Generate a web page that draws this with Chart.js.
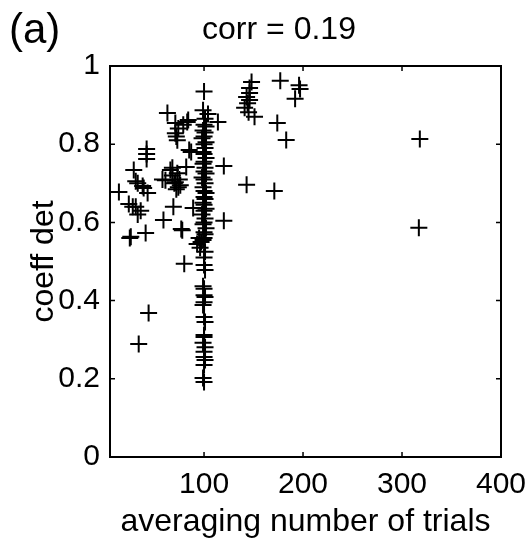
<!DOCTYPE html>
<html>
<head>
<meta charset="utf-8">
<script src="https://cdn.jsdelivr.net/npm/chart.js@4.4.1/dist/chart.umd.min.js"></script>
<style>
  html, body { margin: 0; padding: 0; background: #fff; }
  #wrap { width: 525px; height: 543px; }
</style>
</head>
<body>
<div id="wrap"><canvas id="scatterChart" width="525" height="543"></canvas></div>
<script>
// averaging number of trials vs coeff det
const lowX = [14, 24, 28, 33, 29, 33, 38, 43, 42, 42, 42, 25, 41, 36, 31, 34, 44,
  59, 69, 78, 58, 66, 71, 74, 73, 82, 85, 63, 71, 71, 74, 79, 83, 73, 72, 77, 80,
  68, 70, 72, 75, 68, 76, 61, 84, 87, 89, 39, 26, 31];
const lowY = [0.678, 0.647, 0.64, 0.62, 0.734, 0.70, 0.693, 0.675, 0.788, 0.775, 0.762, 0.56, 0.573, 0.63, 0.705, 0.289, 0.368,
  0.606, 0.64, 0.58, 0.71, 0.734, 0.703, 0.69, 0.726, 0.742, 0.785, 0.88, 0.854, 0.828, 0.84, 0.85, 0.857, 0.81, 0.82, 0.583, 0.494,
  0.72, 0.70, 0.685, 0.71, 0.74, 0.695, 0.708, 0.862, 0.78, 0.637, 0.688, 0.563, 0.64];

const colX = [100, 99, 104, 101,
  100, 102, 99, 101, 100, 98, 102, 100, 101, 99, 100, 102, 100, 99, 101, 100,
  102, 98, 100, 101, 99, 100, 102, 100, 101, 99, 100, 102, 100, 98, 101, 100,
  99, 102, 100, 101, 100, 99, 95, 93, 96, 97, 101, 100,
  100, 101, 99, 100, 100, 101, 100, 99, 100, 101, 100, 100, 99, 101, 100, 100, 101, 100, 99, 100];
const colY = [0.935, 0.887, 0.877, 0.865,
  0.85, 0.845, 0.835, 0.83, 0.82, 0.815, 0.805, 0.80, 0.79, 0.78, 0.775, 0.765, 0.755, 0.75, 0.74, 0.73,
  0.725, 0.715, 0.71, 0.70, 0.69, 0.68, 0.675, 0.665, 0.66, 0.65, 0.645, 0.635, 0.63, 0.62, 0.61, 0.60,
  0.595, 0.585, 0.575, 0.57, 0.56, 0.555, 0.56, 0.545, 0.535, 0.55, 0.525, 0.51,
  0.491, 0.478, 0.437, 0.43, 0.414, 0.409, 0.396, 0.389, 0.358, 0.345, 0.312, 0.307, 0.292, 0.281, 0.269, 0.256, 0.248, 0.235, 0.202, 0.192];

const highX = [114, 120, 120, 148, 146, 146, 143, 146, 141, 145, 151, 144,
  177, 196, 197, 192, 174, 183, 143, 171, 318, 317];
const highY = [0.857, 0.744, 0.604, 0.959, 0.944, 0.931, 0.921, 0.913, 0.893, 0.882, 0.87, 0.905,
  0.962, 0.951, 0.941, 0.916, 0.854, 0.811, 0.696, 0.68, 0.813, 0.586];

const xTicks = [100, 200, 300, 400];
const yTicks = [0, 0.2, 0.4, 0.6, 0.8, 1];

const puntos = [];
[[lowX, lowY], [colX, colY], [highX, highY]].forEach(([xs, ys]) => {
  xs.forEach((x, i) => puntos.push({ x: x, y: ys[i] }));
});

const fuente = '"Liberation Sans", Arial, Helvetica, sans-serif';

// box, inward ticks and the two texts above the plot
const marcoPlugin = {
  id: 'marco',
  afterDraw(chart) {
    const ctx = chart.ctx;
    const a = chart.chartArea;
    const sx = chart.scales.x, sy = chart.scales.y;
    ctx.save();
    ctx.strokeStyle = '#000';
    ctx.lineWidth = 2;
    ctx.strokeRect(a.left, a.top, a.right - a.left, a.bottom - a.top);
    ctx.lineWidth = 1.5;
    ctx.beginPath();
    xTicks.forEach(v => {
      const px = sx.getPixelForValue(v);
      ctx.moveTo(px, a.bottom); ctx.lineTo(px, a.bottom - 5);
      ctx.moveTo(px, a.top); ctx.lineTo(px, a.top + 5);
    });
    yTicks.forEach(v => {
      const py = sy.getPixelForValue(v);
      ctx.moveTo(a.left, py); ctx.lineTo(a.left + 5, py);
      ctx.moveTo(a.right, py); ctx.lineTo(a.right - 5, py);
    });
    ctx.stroke();

    ctx.fillStyle = '#000';
    ctx.textBaseline = 'middle';
    ctx.textAlign = 'center';
    ctx.font = '32px ' + fuente;
    ctx.fillText('corr = 0.19', 279, 30);
    ctx.textAlign = 'left';
    ctx.font = '42px ' + fuente;
    ctx.fillText('(a)', 9, 31);
    ctx.restore();
  }
};

const ctx = document.getElementById('scatterChart').getContext('2d');
const chart = new Chart(ctx, {
  type: 'scatter',
  data: {
    datasets: [{
      label: 'coeff det',
      data: puntos,
      pointStyle: 'cross',
      pointRadius: 8.5,
      pointBorderWidth: 2,
      borderColor: '#000',
      backgroundColor: '#000'
    }]
  },
  options: {
    responsive: false,
    animation: false,
    events: [],
    layout: { padding: { top: 66, right: 24, bottom: 0, left: 0 } },
    plugins: {
      legend: { display: false },
      tooltip: { enabled: false }
    },
    scales: {
      x: {
        type: 'linear',
        min: 5,
        max: 400,
        afterBuildTicks: s => { s.ticks = xTicks.map(v => ({ value: v })); },
        afterFit: s => { s.height = 86; s.paddingLeft = 0; s.paddingRight = 0; },
        grid: { display: false, drawTicks: false },
        border: { display: false },
        ticks: { color: '#000', padding: 10, maxRotation: 0, font: { family: fuente, size: 30 } },
        title: {
          display: true,
          text: 'averaging number of trials',
          color: '#000',
          padding: { top: 0, bottom: 2 },
          font: { family: fuente, size: 32 }
        }
      },
      y: {
        min: 0,
        max: 1,
        afterBuildTicks: s => { s.ticks = yTicks.map(v => ({ value: v })); },
        afterFit: s => { s.width = 110; s.paddingTop = 0; s.paddingBottom = 0; },
        grid: { display: false, drawTicks: false },
        border: { display: false },
        ticks: {
          color: '#000',
          padding: 10,
          font: { family: fuente, size: 30 },
          callback: v => String(Math.round(v * 10) / 10)
        },
        title: {
          display: true,
          text: 'coeff det',
          color: '#000',
          padding: { top: 25, bottom: 0 },
          font: { family: fuente, size: 32 }
        }
      }
    }
  },
  plugins: [marcoPlugin]
});
</script>
</body>
</html>
